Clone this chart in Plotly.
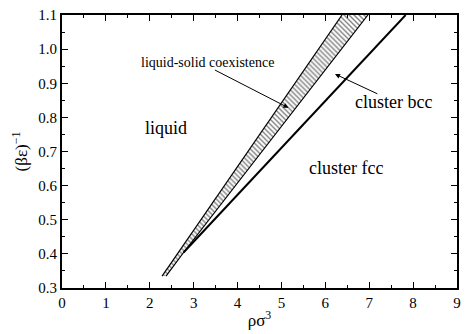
import plotly.graph_objects as go

# liquid-solid coexistence band boundaries
coex_left_x = [2.28, 6.38]
coex_left_y = [0.335, 1.10]
coex_right_x = [2.37, 2.77, 6.97]
coex_right_y = [0.335, 0.404, 1.10]

# bcc-fcc boundary
bccfcc_x = [2.77, 7.83]
bccfcc_y = [0.404, 1.10]

x_ticks = [0, 1, 2, 3, 4, 5, 6, 7, 8, 9]
y_ticks = [0.3, 0.4, 0.5, 0.6, 0.7, 0.8, 0.9, 1.0, 1.1]

SERIF = "Liberation Serif"

fig = go.Figure()

# hatched band (polygon)
poly_x = coex_left_x + coex_right_x[::-1]
poly_y = coex_left_y + coex_right_y[::-1]
fig.add_trace(go.Scatter(
    x=poly_x, y=poly_y, mode="lines", fill="toself",
    line=dict(width=0, color="rgba(0,0,0,0)"),
    fillcolor="white",
    fillpattern=dict(shape="\\", size=3.5, solidity=0.4, fgcolor="black", bgcolor="white"),
    hoverinfo="skip", showlegend=False))

fig.add_trace(go.Scatter(x=coex_left_x, y=coex_left_y, mode="lines",
                         line=dict(color="black", width=1.2), showlegend=False))
fig.add_trace(go.Scatter(x=coex_right_x, y=coex_right_y, mode="lines",
                         line=dict(color="black", width=1.2), showlegend=False))
fig.add_trace(go.Scatter(x=bccfcc_x, y=bccfcc_y, mode="lines",
                         line=dict(color="black", width=2), showlegend=False))

ann_font = dict(family=SERIF, size=18, color="black")
fig.add_annotation(x=2.36, y=0.77, text="liquid", showarrow=False, font=ann_font,
                   xref="x", yref="y")
fig.add_annotation(x=6.48, y=0.652, text="cluster fcc", showarrow=False, font=ann_font,
                   xref="x", yref="y")
fig.add_annotation(x=7.55, y=0.845, text="cluster bcc", showarrow=False, font=ann_font,
                   xref="x", yref="y")
fig.add_annotation(x=3.31, y=0.961, text="liquid-solid coexistence", showarrow=False,
                   font=dict(family=SERIF, size=14, color="black"), xref="x", yref="y")

# arrows
fig.add_annotation(x=5.16, y=0.828, ax=3.45, ay=0.941, xref="x", yref="y",
                   axref="x", ayref="y", showarrow=True, arrowhead=2, arrowsize=1,
                   arrowwidth=1, arrowcolor="black", text="")
fig.add_annotation(x=6.22, y=0.927, ax=7.22, ay=0.867, xref="x", yref="y",
                   axref="x", ayref="y", showarrow=True, arrowhead=2, arrowsize=1,
                   arrowwidth=1, arrowcolor="black", text="")

axis_common = dict(showline=True, linecolor="black", linewidth=2, mirror="ticks",
                   ticks="inside", ticklen=6, tickwidth=1, tickcolor="black",
                   showgrid=False, zeroline=False,
                   tickfont=dict(family=SERIF, size=15, color="black"))

fig.update_xaxes(range=[0, 9], tickvals=x_ticks, ticktext=[str(v) for v in x_ticks],
                 minor=dict(ticks="inside", ticklen=3, dtick=0.5, tickcolor="black"),
                 title=dict(text="ρσ<sup>3</sup>", font=dict(family=SERIF, size=17, color="black"),
                            standoff=4),
                 **axis_common)
fig.update_yaxes(range=[0.3, 1.1], tickvals=y_ticks, ticktext=[f"{v:.1f}" for v in y_ticks],
                 minor=dict(ticks="inside", ticklen=3, dtick=0.05, tickcolor="black"),
                 title=dict(text="(βε)<sup>−1</sup>", font=dict(family=SERIF, size=17, color="black"),
                            standoff=6),
                 **axis_common)

fig.update_layout(width=468, height=334, margin=dict(l=62, r=7, t=14, b=38),
                  plot_bgcolor="white", paper_bgcolor="white", showlegend=False,
                  font=dict(family=SERIF, color="black"))

fig.write_html("out.html")
